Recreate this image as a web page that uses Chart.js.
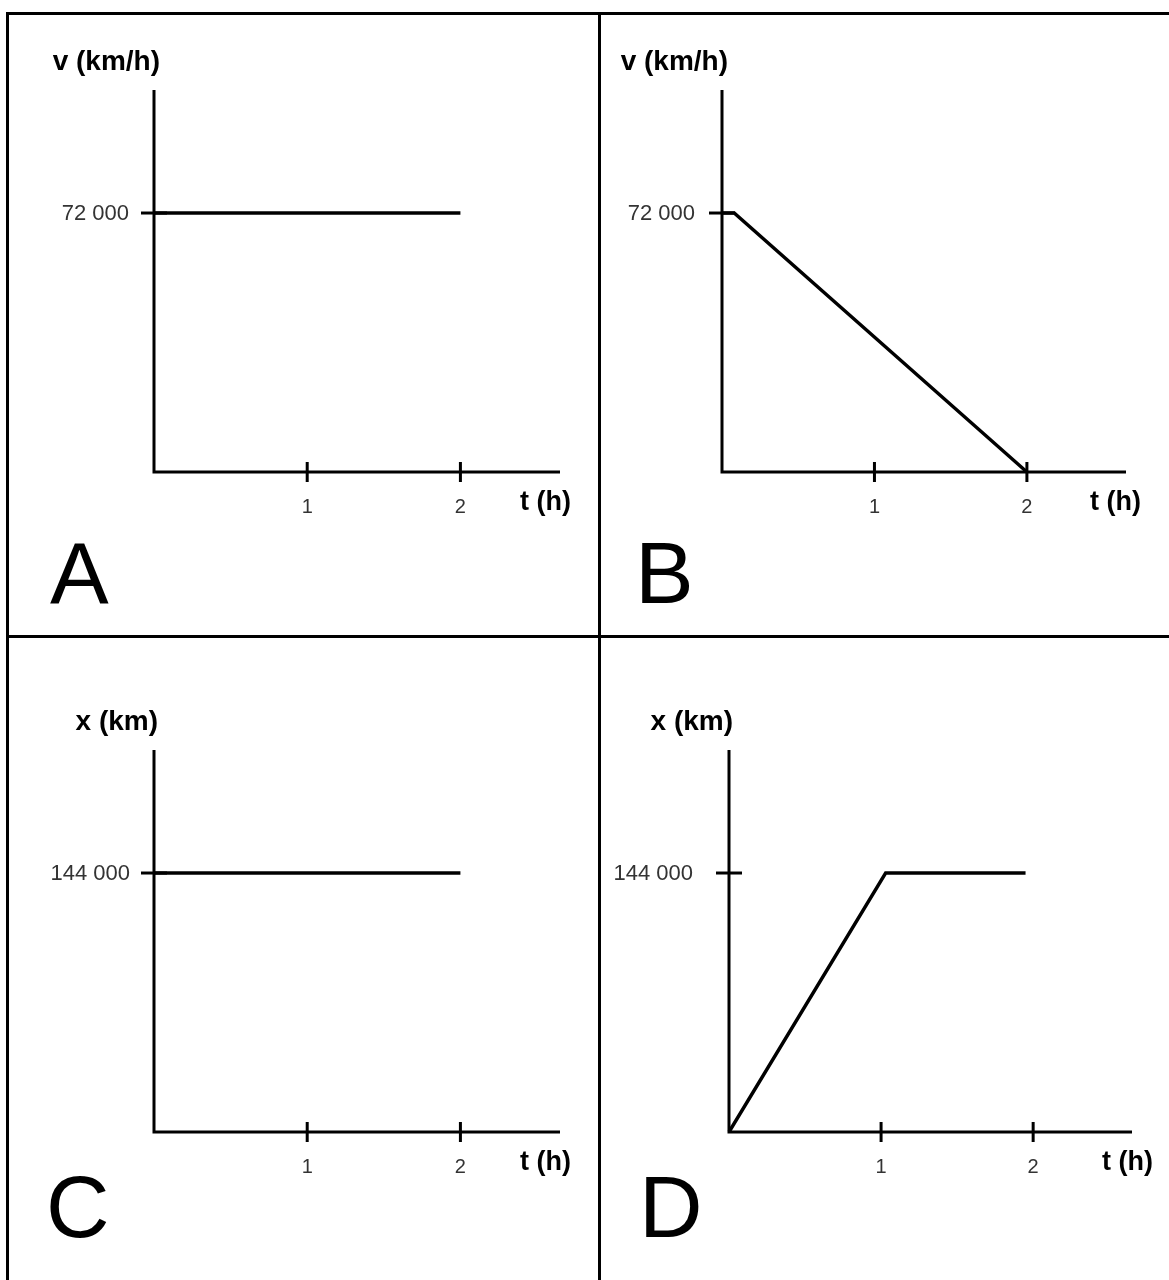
<!DOCTYPE html>
<html>
<head>
<meta charset="utf-8">
<title>v-t and x-t graphs</title>
<script src="https://cdn.jsdelivr.net/npm/chart.js@4"></script>
<style>
    body { margin: 0; background: #fff; }
    #page { position: relative; width: 1169px; height: 1280px; overflow: hidden; background: #fff; }
    #page canvas { position: absolute; }
    .rule { position: absolute; background: #000; }
</style>
</head>
<body>
<div id="page">
    <div class="rule" style="left:6px; top:12px; width:1163px; height:3px;"></div>
    <div class="rule" style="left:6px; top:12px; width:3px; height:1268px;"></div>
    <div class="rule" style="left:598px; top:12px; width:3px; height:1268px;"></div>
    <div class="rule" style="left:6px; top:635px; width:1163px; height:3px;"></div>
    <canvas id="chart-a" width="599" height="636" style="left:0; top:0;"></canvas>
    <canvas id="chart-b" width="570" height="636" style="left:599px; top:0;"></canvas>
    <canvas id="chart-c" width="599" height="644" style="left:0; top:636px;"></canvas>
    <canvas id="chart-d" width="570" height="644" style="left:599px; top:636px;"></canvas>
</div>
<script>
// Data
const timeTicks = [1, 2];
const velocityTicks = [72000];
const positionTicks = [144000];

const timeA = [0, 2];
const velocityA = [72000, 72000];

const timeB = [0, 0.08, 2];
const velocityB = [72000, 72000, 0];

const timeC = [0, 2];
const positionC = [144000, 144000];

const timeD = [0, 1.03, 1.95];
const positionD = [0, 144000, 144000];

const FONT = '"Liberation Sans", Arial, Helvetica, sans-serif';

// Format 72000 -> "72 000"
function formatValue(v) {
    return String(v).replace(/\B(?=(\d{3})+(?!\d))/g, ' ');
}

// Draws the axes, crossing tick marks, labels and panel letter
const axesPlugin = {
    id: 'axesPlugin',
    afterDraw(chart) {
        const cfg = chart.options.plugins.axesPlugin;
        const ctx = chart.ctx;
        const xs = chart.scales.x;
        const ys = chart.scales.y;
        const x0 = xs.getPixelForValue(0);
        const y0 = ys.getPixelForValue(0);

        ctx.save();
        ctx.strokeStyle = '#000';
        ctx.lineWidth = 3;
        ctx.lineCap = 'butt';

        // Axis lines
        ctx.beginPath();
        ctx.moveTo(x0, ys.top);
        ctx.lineTo(x0, y0);
        ctx.lineTo(xs.right, y0);
        ctx.stroke();

        // Time ticks
        ctx.fillStyle = '#333';
        ctx.font = '20px ' + FONT;
        ctx.textAlign = 'center';
        ctx.textBaseline = 'alphabetic';
        cfg.xTicks.forEach(t => {
            const px = xs.getPixelForValue(t);
            ctx.beginPath();
            ctx.moveTo(px, y0 - 10);
            ctx.lineTo(px, y0 + 10);
            ctx.stroke();
            ctx.fillText(String(t), px, y0 + 41);
        });

        // Value ticks
        ctx.font = '22px ' + FONT;
        ctx.textAlign = 'right';
        ctx.textBaseline = 'middle';
        cfg.yTicks.forEach(v => {
            const py = ys.getPixelForValue(v);
            ctx.beginPath();
            ctx.moveTo(x0 - 13, py);
            ctx.lineTo(x0 + 13, py);
            ctx.stroke();
            ctx.fillText(formatValue(v), x0 - cfg.yLabelGap, py + 1);
        });

        // Axis titles
        ctx.fillStyle = '#000';
        ctx.font = 'bold 28px ' + FONT;
        ctx.textBaseline = 'alphabetic';
        ctx.textAlign = 'right';
        ctx.fillText(cfg.yTitle, x0 + cfg.yTitleDx, ys.top - 20);
        ctx.font = 'bold 27px ' + FONT;
        ctx.textAlign = 'left';
        ctx.fillText('t (h)', cfg.tTitleX, y0 + 38);

        // Panel letter
        ctx.font = '88px ' + FONT;
        ctx.fillText(cfg.letter, cfg.letterX, cfg.letterY);
        ctx.restore();
    }
};

function createPanel(id, times, values, yTicks, yMax, yTitle, layout) {
    const ctx = document.getElementById(id).getContext('2d');
    const points = times.map((t, i) => ({ x: t, y: values[i] }));

    new Chart(ctx, {
        type: 'scatter',
        data: {
            datasets: [{
                data: points,
                showLine: true,
                borderColor: '#000',
                borderWidth: 3.4,
                borderJoinStyle: 'miter',
                pointRadius: 0,
                tension: 0,
                clip: false
            }]
        },
        options: {
            responsive: false,
            animation: false,
            layout: { padding: layout.padding },
            scales: {
                x: { type: 'linear', display: false, min: 0, max: 2.65 },
                y: { type: 'linear', display: false, min: 0, max: yMax }
            },
            plugins: {
                legend: { display: false },
                tooltip: { enabled: false },
                axesPlugin: {
                    xTicks: timeTicks,
                    yTicks: yTicks,
                    yTitle: yTitle,
                    yTitleDx: layout.yTitleDx,
                    yLabelGap: layout.yLabelGap,
                    tTitleX: layout.tTitleX,
                    letter: layout.letter,
                    letterX: layout.letterX,
                    letterY: layout.letterY
                }
            }
        },
        plugins: [axesPlugin]
    });
}

createPanel('chart-a', timeA, velocityA, velocityTicks, 106200, 'v (km/h)', {
    padding: { left: 154, right: 39, top: 90, bottom: 164 },
    yTitleDx: 6, yLabelGap: 25, tTitleX: 520, letter: 'A', letterX: 50, letterY: 604
});

createPanel('chart-b', timeB, velocityB, velocityTicks, 106200, 'v (km/h)', {
    padding: { left: 123, right: 43, top: 90, bottom: 164 },
    yTitleDx: 6, yLabelGap: 27, tTitleX: 491, letter: 'B', letterX: 36, letterY: 603
});

createPanel('chart-c', timeC, positionC, positionTicks, 212400, 'x (km)', {
    padding: { left: 154, right: 39, top: 114, bottom: 148 },
    yTitleDx: 4, yLabelGap: 24, tTitleX: 520, letter: 'C', letterX: 46, letterY: 601
});

createPanel('chart-d', timeD, positionD, positionTicks, 212400, 'x (km)', {
    padding: { left: 130, right: 37, top: 114, bottom: 148 },
    yTitleDx: 4, yLabelGap: 36, tTitleX: 503, letter: 'D', letterX: 40, letterY: 601
});
</script>
</body>
</html>
